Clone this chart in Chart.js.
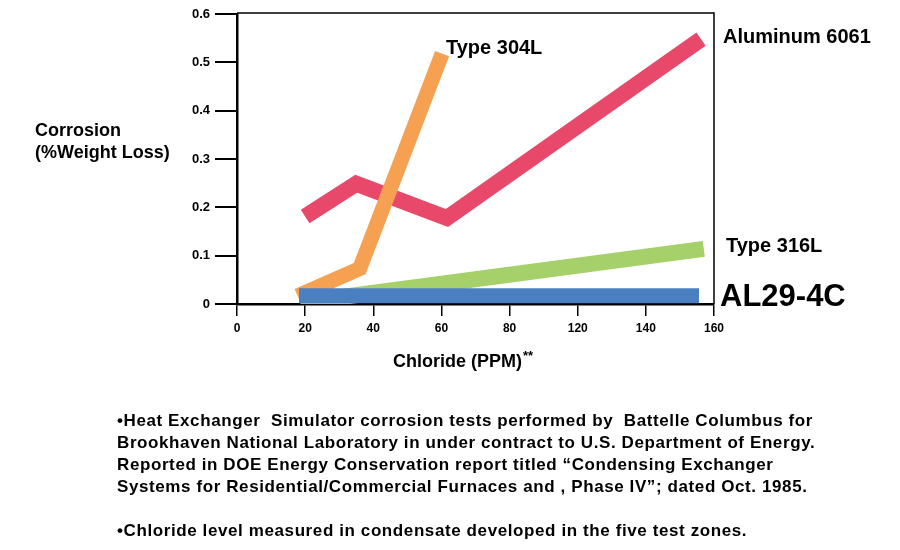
<!DOCTYPE html>
<html>
<head>
<meta charset="utf-8">
<script src="https://cdn.jsdelivr.net/npm/chart.js@4/dist/chart.umd.min.js"></script>
<style>
  html, body { margin: 0; padding: 0; background: #fff; }
  #wrap { position: relative; width: 900px; height: 550px; overflow: hidden; }
  #c { position: absolute; left: 0; top: 0; }
  #note {
    position: absolute; left: 117px; top: 410px;
    font: bold 17px "Liberation Sans", Arial, sans-serif;
    letter-spacing: 0.6px;
    line-height: 22px; color: #000; white-space: pre; margin: 0;
  }
</style>
</head>
<body>
<div id="wrap">
  <canvas id="c" width="900" height="550"></canvas>
  <div id="note"></div>
</div>
<script>
// ---- data (x in tick-slot units: 0..7 map to the tick labels below) ----
const xTickLabels = ['0', '20', '40', '60', '80', '120', '140', '160'];
const yTickLabels = ['0', '0.1', '0.2', '0.3', '0.4', '0.5', '0.6'];

const al294cX = [0.91, 6.78];
const al294cY = [0.017, 0.017];

const type304lX = [0.89, 1.80, 3.01];
const type304lY = [0.017, 0.073, 0.518];

const aluminumX = [1.0, 1.75, 3.08, 6.81];
const aluminumY = [0.181, 0.249, 0.178, 0.548];

const type316lX = [0.93, 6.85];
const type316lY = [0.003, 0.114];

const seriesNames = ['AL29-4C', 'Type 304L', 'Aluminum 6061', 'Type 316L'];
const xTitle = 'Chloride (PPM)';
const xTitleSup = '**';
const yTitleLines = ['Corrosion', '(%Weight Loss)'];
const noteLines = [
  '\u2022Heat Exchanger  Simulator corrosion tests performed by  Battelle Columbus for',
  'Brookhaven National Laboratory in under contract to U.S. Department of Energy.',
  'Reported in DOE Energy Conservation report titled \u201cCondensing Exchanger',
  'Systems for Residential/Commercial Furnaces and , Phase IV\u201d; dated Oct. 1985.',
  '',
  '\u2022Chloride level measured in condensate developed in the five test zones.'
];

document.getElementById('note').textContent = noteLines.join('\n');

const pts = (xs, ys) => xs.map((x, i) => ({ x: x, y: ys[i] }));
const FONT = '"Liberation Sans", Arial, sans-serif';

function lineDs(label, xs, ys, color, width) {
  return {
    label: label,
    data: pts(xs, ys),
    borderColor: color,
    backgroundColor: color,
    borderWidth: width,
    borderCapStyle: 'butt',
    borderJoinStyle: 'miter',
    pointRadius: 0,
    pointHoverRadius: 0,
    tension: 0,
    fill: false,
    clip: 0
  };
}

const labelPlugin = {
  id: 'labels',
  afterDraw(chart) {
    const ctx = chart.ctx;
    const a = chart.chartArea;
    ctx.save();
    // top & right frame
    ctx.strokeStyle = '#000';
    ctx.lineWidth = 1.5;
    ctx.beginPath();
    ctx.moveTo(a.left, a.top - 1);
    ctx.lineTo(a.right, a.top - 1);
    ctx.lineTo(a.right, a.bottom);
    ctx.stroke();

    ctx.fillStyle = '#000';
    ctx.textBaseline = 'middle';
    ctx.textAlign = 'left';
    ctx.font = 'bold 20px ' + FONT;
    ctx.fillText(seriesNames[1], 446, 48);
    ctx.fillText(seriesNames[2], 723, 37);
    ctx.fillText(seriesNames[3], 726, 246);
    ctx.font = 'bold 31px ' + FONT;
    ctx.fillText(seriesNames[0], 720, 297);

    ctx.font = 'bold 18px ' + FONT;
    ctx.fillText(yTitleLines[0], 35, 131);
    ctx.fillText(yTitleLines[1], 35, 153);

    ctx.fillText(xTitle, 393, 362);
    const w = ctx.measureText(xTitle).width;
    ctx.font = 'bold 13px ' + FONT;
    ctx.fillText(xTitleSup, 393 + w + 1, 356);
    ctx.restore();
  }
};

new Chart(document.getElementById('c'), {
  type: 'line',
  data: {
    datasets: [
      lineDs(seriesNames[0], al294cX, al294cY, '#4A7FC2', 15),
      lineDs(seriesNames[1], type304lX, type304lY, '#F6A052', 15),
      lineDs(seriesNames[2], aluminumX, aluminumY, '#E8496B', 16),
      lineDs(seriesNames[3], type316lX, type316lY, '#A6D06A', 16)
    ]
  },
  options: {
    responsive: false,
    animation: false,
    devicePixelRatio: 1,
    layout: { padding: { left: 0, top: 14, right: 186, bottom: 186 } },
    plugins: { legend: { display: false }, tooltip: { enabled: false } },
    scales: {
      x: {
        type: 'linear',
        min: 0, max: 7,
        afterFit: s => { s.height = 60; },
        ticks: {
          stepSize: 1, autoSkip: false, maxRotation: 0, padding: 5,
          color: '#000',
          font: { family: FONT, weight: 'bold', size: 12 },
          callback: v => xTickLabels[Math.round(v)]
        },
        grid: { drawOnChartArea: false, drawTicks: true, tickLength: 12, color: '#000', lineWidth: 1.5 },
        border: { display: true, color: '#000', width: 2.5 }
      },
      y: {
        min: 0, max: 0.6,
        afterFit: s => { s.width = 237; },
        ticks: {
          stepSize: 0.1, padding: 5,
          color: '#000',
          font: { family: FONT, weight: 'bold', size: 13 },
          callback: v => yTickLabels[Math.round(v * 10)]
        },
        grid: { drawOnChartArea: false, drawTicks: true, tickLength: 22, color: '#000', lineWidth: 2 },
        border: { display: true, color: '#000', width: 2.5 }
      }
    }
  },
  plugins: [labelPlugin]
});
</script>
</body>
</html>
